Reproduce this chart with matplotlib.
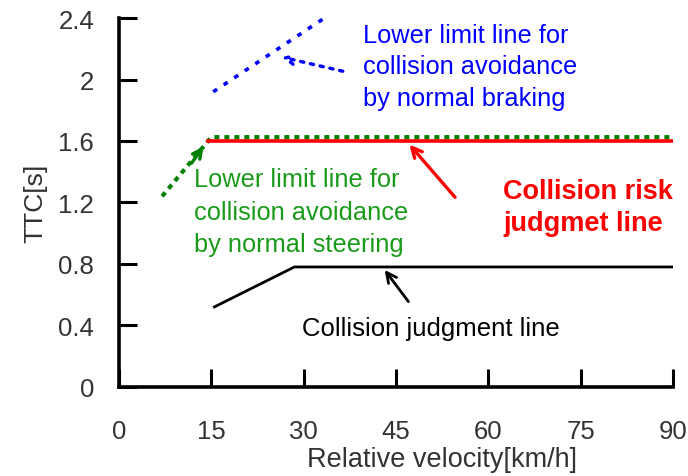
import matplotlib.pyplot as plt

# data
collision_x = [15.5, 28.5, 90]
collision_y = [0.52, 0.78, 0.78]
risk_x = [14.5, 90]
risk_y = [1.6, 1.6]
steer_x = [7, 15, 90]
steer_y = [1.24, 1.625, 1.625]
brake_x = [15.3, 34.5]
brake_y = [1.92, 2.43]

xticks = [0, 15, 30, 45, 60, 75, 90]
yticks = [0, 0.4, 0.8, 1.2, 1.6, 2.0, 2.4]
yticklabels = ['0', '0.4', '0.8', '1.2', '1.6', '2', '2.4']

plt.rcParams['font.family'] = ['Liberation Sans', 'DejaVu Sans']

fig = plt.figure(figsize=(6.88, 4.77), dpi=100)
ax = fig.add_axes([0.173, 0.187, 0.805, 0.773])

ax.plot(steer_x, steer_y, color='#008000', lw=3, linestyle=(0, (1.2, 1.2)), zorder=2)
ax.plot(risk_x, risk_y, color='#ff0000', lw=2.6, zorder=3)
ax.plot(collision_x, collision_y, color='black', lw=2, zorder=3)
ax.plot(brake_x, brake_y, color='#0000ff', lw=2.6, linestyle=(0, (1.3, 2.2)), zorder=2)

# arrows
ax.annotate('', xy=(26.0, 2.15), xytext=(36.8, 2.05),
            arrowprops=dict(arrowstyle='->', color='#0000ff', lw=2.4,
                            linestyle=(0, (1, 2)), mutation_scale=16))
ax.annotate('', xy=(14.0, 1.58), xytext=(11.5, 1.44),
            arrowprops=dict(arrowstyle='->', color='#008000', lw=2.4,
                            mutation_scale=16))
ax.annotate('', xy=(46.9, 1.59), xytext=(54.9, 1.22),
            arrowprops=dict(arrowstyle='->', color='#ff0000', lw=2.4,
                            mutation_scale=18))
ax.annotate('', xy=(42.9, 0.775), xytext=(47.3, 0.54),
            arrowprops=dict(arrowstyle='->', color='black', lw=2,
                            mutation_scale=18))

# labels
ax.text(39.6, 2.37, 'Lower limit line for\ncollision avoidance\nby normal braking',
        color='#0000ff', fontsize=18.3, va='top', ha='left', linespacing=1.4)
ax.text(12.2, 1.43, 'Lower limit line for\ncollision avoidance\nby normal steering',
        color='#1a9a1a', fontsize=18.3, va='top', ha='left', linespacing=1.45)
ax.text(62.4, 1.36, 'Collision risk\njudgmet line',
        color='#ff0000', fontsize=19.5, fontweight='bold', va='top', ha='left',
        linespacing=1.3)
ax.text(29.8, 0.385, 'Collision judgment line', color='black', fontsize=18.5,
        va='center', ha='left')

ax.set_xlim(0, 90)
ax.set_ylim(0, 2.4)
ax.set_xticks(xticks)
ax.set_yticks(yticks)
ax.set_yticklabels(yticklabels)
ax.tick_params(direction='in', length=13, width=2.2, labelsize=18.5,
               labelcolor='#333333')
ax.tick_params(axis='x', pad=23)
ax.tick_params(axis='y', pad=18)
for s in ['top', 'right']:
    ax.spines[s].set_visible(False)
for s in ['left', 'bottom']:
    ax.spines[s].set_linewidth(2.6)

ax.set_xlabel('Relative velocity[km/h]', fontsize=19.5, color='#333333')
ax.xaxis.set_label_coords(0.583, -0.16)
ax.set_ylabel('TTC[s]', fontsize=19, color='#333333', labelpad=8)

fig.savefig('out.png', dpi=100)
